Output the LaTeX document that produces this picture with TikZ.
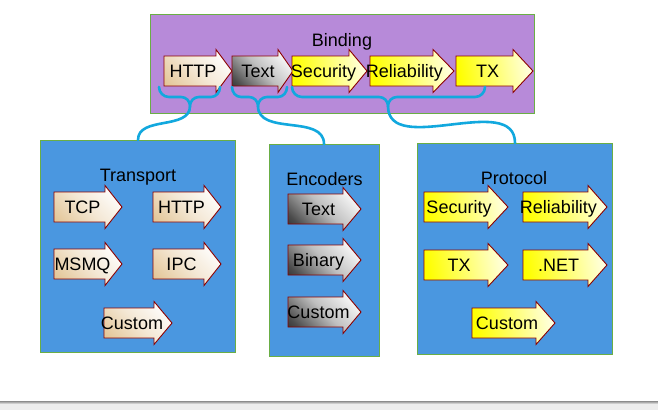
\documentclass[tikz,border=0pt]{standalone}
\usepackage{fontspec}
\setmainfont{Liberation Sans}
\definecolor{purp}{HTML}{B78AD9}
\definecolor{boxgreen}{HTML}{6AAE45}
\definecolor{blu}{HTML}{4A97E0}
\definecolor{brd}{HTML}{8B0000}
\definecolor{beige}{HTML}{E3C596}
\definecolor{cyanl}{HTML}{12A8DE}
\definecolor{paleyel}{HTML}{FFFFE0}
\pgfdeclareverticalshading{grayramp}{100bp}{color(0bp)=(white); color(22bp)=(white); color(50bp)=(black!25); color(75bp)=(black!70); color(100bp)=(black)}
\pgfdeclareverticalshading{beigeramp}{100bp}{color(0bp)=(white); color(22bp)=(white); color(50bp)=(beige!40); color(80bp)=(beige); color(100bp)=(beige)}
\tikzset{
  frame/.style={draw=boxgreen, line width=1.2pt, inner sep=0pt},
  arrbeige/.style={draw=brd, line width=0.9pt, shading=beigeramp, shading angle=135},
  arrgray/.style={draw=brd, line width=0.9pt, shading=grayramp, shading angle=135},
  arryel/.style={draw=brd, line width=0.9pt, left color=yellow, right color=paleyel, shading angle=100},
  lbl/.style={font=\fontsize{18}{20}\selectfont, inner sep=0pt, anchor=base},
  title/.style={font=\fontsize{18}{20}\selectfont, inner sep=0pt, anchor=base},
  bracel/.style={draw=cyanl, line width=2.6pt, line cap=round},
}
\newcommand{\harr}[7]{%
  \path[#6] (#2,#5-15) -- (#3,#5-15) -- (#3,#5-21.5) -- (#4,#5) -- (#3,#5+21.5) -- (#3,#5+15) -- (#2,#5+15) -- cycle;
  \node[lbl] (#1) at ({(#2+#3)/2+3},#5+6.5) {#7};}
\begin{document}
\begin{tikzpicture}[x=1pt,y=-1pt]
\useasboundingbox (0,0) rectangle (658,410);
\fill[white] (0,0) rectangle (658,410);
\fill[black!7] (0,401) rectangle (658,410);
\shade[top color=black!45, bottom color=black!7] (0,401) rectangle (658,404);

% frames
\node[frame, fill=purp, minimum width=384pt, minimum height=99pt, anchor=north west] (binding) at (150,14) {};
\node[frame, fill=blu, minimum width=195pt, minimum height=212pt, anchor=north west] (transport) at (40,140) {};
\node[frame, fill=blu, minimum width=110pt, minimum height=212pt, anchor=north west] (encoders) at (269,144) {};
\node[frame, fill=blu, minimum width=195pt, minimum height=211pt, anchor=north west] (protocol) at (417,143) {};

\node[title] (tbinding) at (342,46) {Binding};
\node[title] (ttransport) at (138,181) {Transport};
\node[title] (tencoders) at (324.5,185) {Encoders};
\node[title] (tprotocol) at (514,184.5) {Protocol};

% binding arrows
\harr{bhttp}{164}{216}{232}{71}{arrbeige}{HTTP}
\harr{btext}{232}{278}{293}{71}{arrgray}{Text}
\harr{bsec}{292}{349}{367}{71}{arryel}{Security}
\harr{brel}{370}{433}{454}{71}{arryel}{Reliability}
\harr{btx}{456}{513}{533}{71}{arryel}{TX}

% transport
\harr{ttcp}{54}{105}{122}{207}{arrbeige}{TCP}
\harr{thttp}{153}{204}{221}{207}{arrbeige}{HTTP}
\harr{tmsmq}{54}{105}{122}{264}{arrbeige}{MSMQ}
\harr{tipc}{153}{204}{221}{264}{arrbeige}{IPC}
\harr{tcustom}{104}{154}{172}{323}{arrbeige}{Custom}

% encoders
\harr{etext}{288}{343}{361}{209}{arrgray}{Text}
\harr{ebin}{288}{343}{361}{260}{arrgray}{Binary}
\harr{ecustom}{288}{343}{361}{312}{arrgray}{Custom}

% protocol
\harr{psec}{424}{488}{508}{207}{arryel}{Security}
\harr{prel}{523}{588}{607}{207}{arryel}{Reliability}
\harr{ptx}{424}{488}{508}{265}{arryel}{TX}
\harr{pnet}{523}{588}{607}{265}{arryel}{.NET}
\harr{pcustom}{472}{536}{555}{323}{arryel}{Custom}

% braces
\coordinate (c1) at (transport.north west -| 138,0);
\draw[bracel] (159,87) to[out=-90,in=180] (169,97) -- (181,97) to[out=0,in=90] (190,106)
  to[out=90,in=180] (199,97) -- (211,97) to[out=0,in=-90] (220,87);
\draw[bracel] (190,106) to[out=-90,in=90] (c1);

\coordinate (c2) at (encoders.north west -| 324,0);
\draw[bracel] (232,87) to[out=-90,in=180] (241,97) -- (249,97) to[out=0,in=90] (258,106)
  to[out=90,in=180] (267,97) -- (278,97) to[out=0,in=-90] (287,87);
\draw[bracel] (258,106) to[out=-90,in=90] (c2);

\coordinate (c3) at (protocol.north west -| 515,0);
\draw[bracel] (292,87) to[out=-90,in=180] (302,97) -- (379,97) to[out=0,in=90] (388,106)
  to[out=90,in=180] (397,97) -- (475,97) to[out=0,in=-90] (485,87);
\draw[bracel] (388,106) to[out=-90,in=90] (c3);
\end{tikzpicture}
\end{document}
